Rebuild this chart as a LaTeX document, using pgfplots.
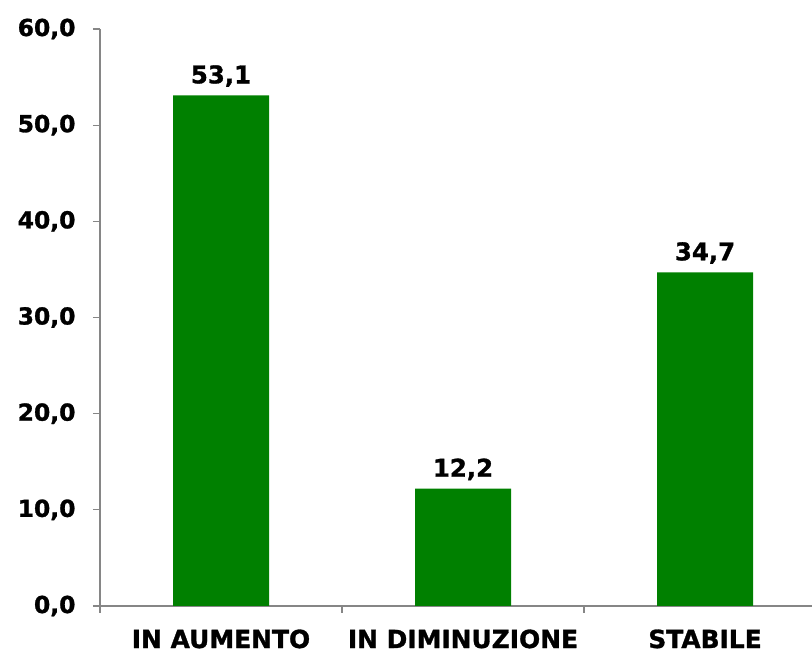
\documentclass[border=0pt]{standalone}
\usepackage{pgfplots}
\pgfplotsset{compat=1.18}
\usepackage{fontspec}
\setmainfont{DejaVu Sans}[BoldFeatures={FakeBold=1.2}]
\definecolor{bargreen}{RGB}{0,128,0}
\definecolor{axgray}{RGB}{134,134,134}
\begin{document}
\begin{tikzpicture}
\useasboundingbox (-100bp,-47bp) rectangle (712bp,606bp);
\begin{axis}[
 scale only axis,width=712bp,height=577bp,
 at={(0,0)},anchor=south west,
 xmin=-0.5,xmax=2.442,ymin=0,ymax=60,
 axis lines=left,axis line style={-,axgray,line width=1.2pt},
 xtick={0,1,2},xticklabels={IN AUMENTO,IN DIMINUZIONE,STABILE},
 minor xtick={-0.5,0.5,1.5},
 ytick={0,10,...,60},
 major x tick style={draw=none},
 tick style={axgray,line width=1.2pt},
 major tick length=7bp,minor tick length=7bp,
 tick align=outside,
 yticklabel style={font=\fontsize{23.5}{27}\selectfont\bfseries,xshift=-14bp},
 xticklabel style={font=\fontsize{25}{29}\selectfont\bfseries,yshift=-13bp},
 /pgf/number format/.cd,fixed,fixed zerofill,precision=1,use comma,assume math mode=true,
]
\addplot[ybar,bar width=96bp,fill=bargreen,draw=none,
 nodes near coords,
 nodes near coords style={font=\fontsize{24.5}{28}\selectfont\bfseries,black,yshift=5bp,
  /pgf/number format/.cd,fixed,fixed zerofill,precision=1,use comma,assume math mode=true}]
 coordinates {(0,53.1) (1,12.2) (2,34.7)};
\end{axis}
\end{tikzpicture}
\end{document}
